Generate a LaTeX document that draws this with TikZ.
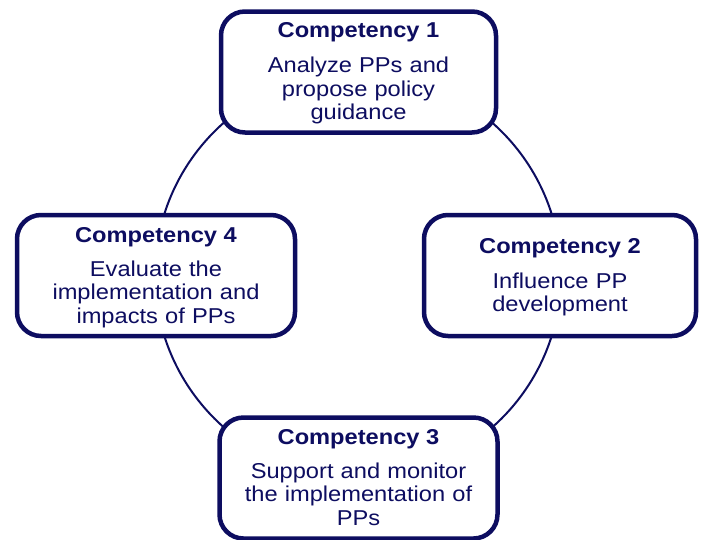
\documentclass[tikz,border=0pt]{standalone}
\usepackage{fontspec}
\setmainfont{Liberation Sans}[FakeStretch=1.1]
\definecolor{navy}{RGB}{13,13,96}
\tikzset{
  compbox/.style={draw=navy, line width=4.5pt, rounded corners=24pt, fill=white, minimum width=#1, minimum height=121pt, inner sep=0pt},
  ctitle/.style={anchor=base, text=navy, font=\fontsize{21.5}{23.5}\selectfont\bfseries, inner sep=0pt},
  cbody/.style={anchor=base, text=navy, font=\fontsize{21.5}{23.5}\selectfont, text width=270pt, align=center, inner sep=0pt},
}
\begin{document}
\begin{tikzpicture}[x=1pt,y=-1pt]
\useasboundingbox (0,0) rectangle (708,539);
\coordinate (ctr) at (358,275);
\draw[navy, line width=2pt] (ctr) circle[radius=203];
\node[compbox=275pt] (b1) at (358.5,72) {};
\node[compbox=272pt] (b2) at (560,275.5) {};
\node[compbox=278pt] (b3) at (358.5,478) {};
\node[compbox=278pt] (b4) at (156,275.5) {};
% box 1
\node[ctitle] (t1) at (358.5,37) {Competency 1};
\node[cbody] (d1) at (358.5,72.7) {Analyze PPs and\\propose policy\\guidance};
% box 2
\node[ctitle] (t2) at (560,253) {Competency 2};
\node[cbody] (d2) at (560,288) {Influence PP\\development};
% box 3
\node[ctitle] (t3) at (358.5,444) {Competency 3};
\node[cbody] (d3) at (358.5,478) {Support and monitor\\the implementation of\\PPs};
% box 4
\node[ctitle] (t4) at (156,242) {Competency 4};
\node[cbody] (d4) at (156,276) {Evaluate the\\implementation and\\impacts of PPs};
\end{tikzpicture}
\end{document}
